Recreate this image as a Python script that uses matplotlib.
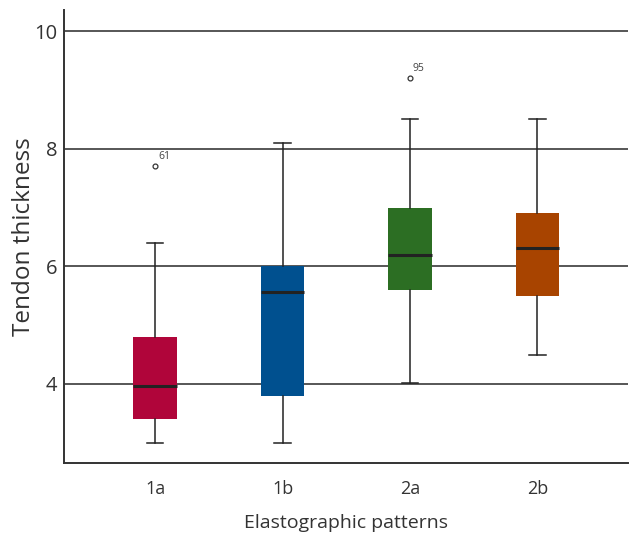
import matplotlib
matplotlib.use("Agg")
import matplotlib.pyplot as plt

categories = ["1a", "1b", "2a", "2b"]
q1 = [3.4, 3.8, 5.6, 5.5]
medians = [3.97, 5.56, 6.2, 6.31]
q3 = [4.8, 6.0, 7.0, 6.9]
whisker_low = [3.0, 3.0, 4.02, 4.5]
whisker_high = [6.4, 8.1, 8.5, 8.5]
outliers = [[7.7], [], [9.2], []]
outlier_labels = [["61"], [], ["95"], []]
colors = ["#B0053A", "#00508F", "#2C6E23", "#A84400"]

plt.rcParams['font.family'] = ['Open Sans', 'DejaVu Sans']
text_color = "#333333"

fig = plt.figure(figsize=(6.3, 5.34), dpi=100)
ax = fig.add_axes([0.1016, 0.133, 0.8952, 0.848])

stats = []
for i, c in enumerate(categories):
    stats.append(dict(label=c, q1=q1[i], med=medians[i], q3=q3[i],
                      whislo=whisker_low[i], whishi=whisker_high[i],
                      fliers=outliers[i]))

positions = list(range(1, len(categories) + 1))

ax.set_axisbelow(True)
ax.yaxis.grid(True, color="#3a3a3a", linewidth=1.2)

bp = ax.bxp(stats, positions=positions, widths=0.34, patch_artist=True,
            showfliers=True,
            boxprops=dict(linewidth=0),
            medianprops=dict(color="#222222", linewidth=2.2),
            whiskerprops=dict(color="#222222", linewidth=1.1),
            capprops=dict(color="#222222", linewidth=1.1),
            capwidths=0.13,
            flierprops=dict(marker="o", markersize=3.5, markerfacecolor="white",
                            markeredgecolor="#333333", markeredgewidth=0.9))
for patch, col in zip(bp['boxes'], colors):
    patch.set_facecolor(col)
    patch.set_edgecolor(col)

for i, (vals, labs) in enumerate(zip(outliers, outlier_labels)):
    for v, lab in zip(vals, labs):
        ax.annotate(lab, (positions[i], v), xytext=(2, 3), textcoords="offset points",
                    fontsize=7.5, color="#444444", ha="left", va="bottom")

ax.set_xlim(0.285, 4.71)
ax.set_ylim(2.655, 10.36)
ax.set_yticks([4, 6, 8, 10])
ax.set_xticks(positions)
ax.set_xticklabels(categories)

for s in ["top", "right"]:
    ax.spines[s].set_visible(False)
for s in ["left", "bottom"]:
    ax.spines[s].set_color("#333333")
    ax.spines[s].set_linewidth(1.4)

ax.tick_params(axis="y", labelsize=14.5, colors=text_color, length=0, pad=5)
ax.tick_params(axis="x", labelsize=13, colors=text_color, length=0, pad=12)
ax.set_ylabel("Tendon thickness", fontsize=17.5, color=text_color)
ax.yaxis.set_label_coords(-0.05, 0.5)
ax.set_xlabel("Elastographic patterns", fontsize=14, color=text_color, labelpad=12)

fig.savefig("out.png", dpi=100)
